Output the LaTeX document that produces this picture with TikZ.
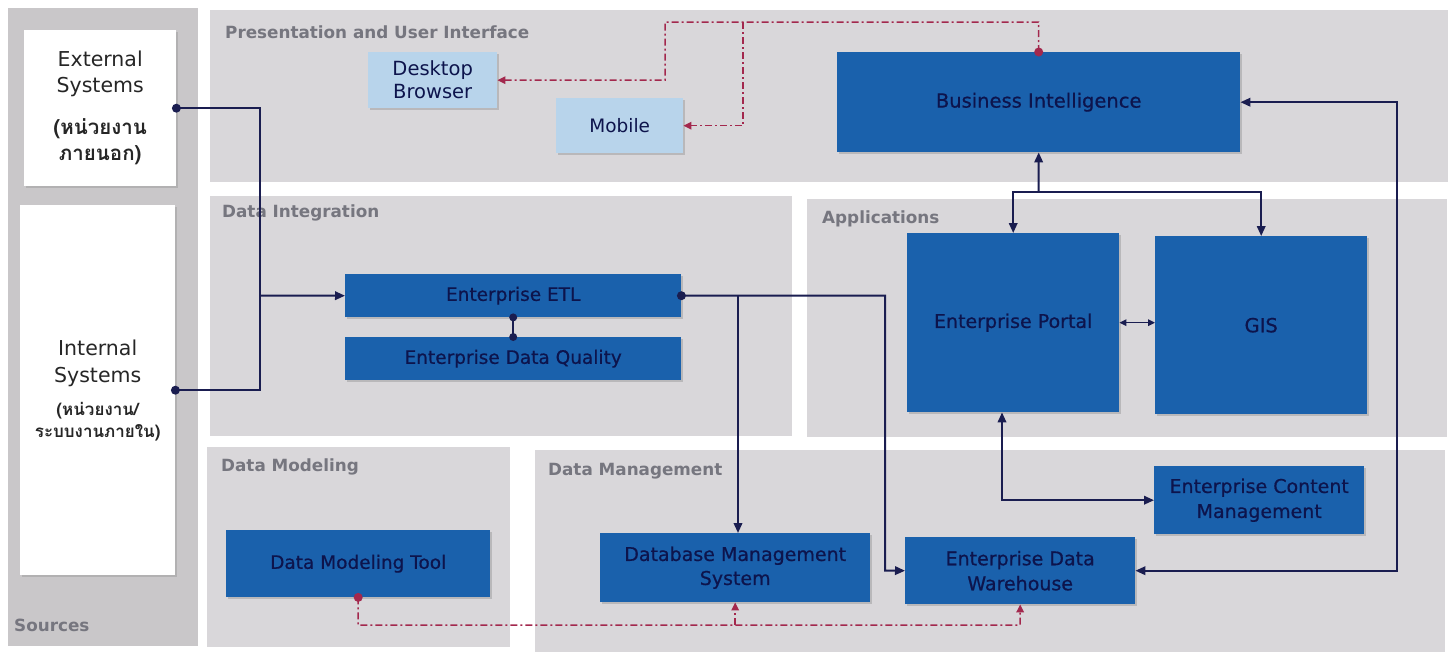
\documentclass[tikz,border=0pt]{standalone}
\usepackage{fontspec}
\setmainfont{DejaVu Sans}
\newfontfamily\boxfont[FakeBold=0.6]{DejaVu Sans}
\newfontfamily\thaifont[Script=Thai]{Loma}
\usetikzlibrary{arrows.meta,shadows,calc}
\definecolor{panel}{HTML}{D9D7DA}
\definecolor{srcpanel}{HTML}{C9C7C9}
\definecolor{boxblue}{HTML}{1A61AC}
\definecolor{lightblue}{HTML}{B8D4EB}
\definecolor{navy}{HTML}{0D144C}
\definecolor{linec}{HTML}{1A1D50}
\definecolor{redc}{HTML}{A3284D}
\definecolor{labelc}{HTML}{76767F}
\begin{document}
\begin{tikzpicture}[x=1pt,y=-1pt,
  panelbox/.style={fill=panel,draw=none,anchor=north west,inner sep=0pt},
  plabel/.style={anchor=west,text=labelc,font=\fontsize{16.8}{19}\selectfont\bfseries,inner sep=0pt},
  srcbox/.style={fill=white,anchor=north west,inner sep=0pt,align=center,text=black!85,
    drop shadow={opacity=0.3,shadow xshift=2pt,shadow yshift=-2pt}},
  bluebox/.style={fill=boxblue,text=navy,font=\boxfont\fontsize{18.5}{22}\selectfont,align=center,
    anchor=north west,inner sep=0pt,drop shadow={opacity=0.35,shadow xshift=2pt,shadow yshift=-2pt}},
  lbox/.style={fill=lightblue,text=navy,font=\fontsize{19.5}{23}\selectfont,align=center,
    anchor=north west,inner sep=0pt,drop shadow={opacity=0.35,shadow xshift=2pt,shadow yshift=-2pt}},
  conn/.style={draw=linec,line width=2pt},
  arr/.style={-{Triangle[length=10pt,width=8.5pt]}},
  barr/.style={{Triangle[length=10pt,width=8.5pt]}-{Triangle[length=10pt,width=8.5pt]}},
  sarr/.style={{Triangle[length=7pt,width=6.5pt]}-{Triangle[length=7pt,width=6.5pt]}},
  redl/.style={draw=redc,line width=1.5pt,dash pattern=on 7pt off 3pt on 2pt off 3pt},
  rarr/.style={-{Triangle[length=8pt,width=7.5pt]}},
]
\useasboundingbox[fill=white] (0,0) rectangle (1455,659);

% ---------- panels ----------
\node[panelbox,fill=srcpanel,minimum width=190pt,minimum height=638pt] (psrc) at (8,8) {};
\node[panelbox,minimum width=1238pt,minimum height=172pt] (ppres) at (210,10) {};
\node[panelbox,minimum width=582pt,minimum height=240pt] (pdi) at (210,196) {};
\node[panelbox,minimum width=640pt,minimum height=238pt] (papp) at (807,199) {};
\node[panelbox,minimum width=303pt,minimum height=200pt] (pdmod) at (207,447) {};
\node[panelbox,minimum width=910pt,minimum height=202pt] (pdman) at (535,450) {};

\node[plabel] (lsrc) at (14,625) {Sources};
\node[plabel] (lpres) at (225,32) {Presentation and User Interface};
\node[plabel] (ldi) at (222,213) {Data Integration};
\node[plabel] (lapp) at (822,219) {Applications};
\node[plabel] (ldmod) at (221,467) {Data Modeling};
\node[plabel] (ldman) at (548,471) {Data Management};

% ---------- sources ----------
\node[srcbox,minimum width=152pt,minimum height=156pt,font=\fontsize{20.5}{26}\selectfont] (ext) at (24,30)
  {External\\Systems\\[16pt]{\thaifont\bfseries (หน่วยงาน}\\{\thaifont\bfseries ภายนอก)}};
\node[srcbox,minimum width=155pt,minimum height=370pt,font=\fontsize{20.5}{27}\selectfont] (int) at (20,205)
  {Internal\\Systems\\[6pt]{\thaifont\bfseries\fontsize{17}{21}\selectfont (หน่วยงาน/}\\[-5pt]{\thaifont\bfseries\fontsize{17}{21}\selectfont ระบบงานภายใน)}};

% ---------- presentation ----------
\node[lbox,minimum width=129pt,minimum height=56pt] (desk) at (368,52) {Desktop\\Browser};
\node[lbox,minimum width=127pt,minimum height=55pt,font=\fontsize{18.5}{22}\selectfont] (mob) at (556,98) {Mobile};
\node[bluebox,minimum width=403pt,minimum height=100pt,font=\boxfont\fontsize{19.5}{22}\selectfont] (bi) at (837,52) {Business Intelligence};

% ---------- data integration ----------
\node[bluebox,minimum width=336pt,minimum height=43pt] (etl) at (345,274) {Enterprise ETL};
\node[bluebox,minimum width=336pt,minimum height=43pt] (edq) at (345,337) {Enterprise Data Quality};

% ---------- applications ----------
\node[bluebox,minimum width=212pt,minimum height=179pt,font=\boxfont\fontsize{19}{22}\selectfont] (portal) at (907,233) {Enterprise Portal};
\node[bluebox,minimum width=212pt,minimum height=178pt,font=\boxfont\fontsize{19.5}{22}\selectfont] (gis) at (1155,236) {GIS};

% ---------- data modeling / management ----------
\node[bluebox,minimum width=264pt,minimum height=67pt] (dmt) at (226,530) {Data Modeling Tool};
\node[bluebox,minimum width=270pt,minimum height=69pt,font=\boxfont\fontsize{19}{24}\selectfont] (dbms) at (600,533) {Database Management\\System};
\node[bluebox,minimum width=230pt,minimum height=67pt,font=\boxfont\fontsize{19}{25}\selectfont] (edw) at (905,537) {Enterprise Data\\Warehouse};
\node[bluebox,minimum width=210pt,minimum height=68pt,font=\boxfont\fontsize{19}{25}\selectfont] (ecm) at (1154,466) {Enterprise Content\\Management};

% ---------- connectors ----------
\coordinate (j1) at (260,295.5);
\draw[conn] (ext.east) -| (j1) |- (int.east);
\draw[conn,arr] (j1) -- (etl.west);
\fill[linec] (ext.east) circle (4.5pt);
\fill[linec] (int.east) circle (4.5pt);

\coordinate (j3) at (885,570.5);
\coordinate (j4) at (738,295.5);
\draw[conn,arr] (etl.east) -| (j3) -- (edw.west);
\draw[conn,arr] (j4) -- (j4 |- dbms.north);
\fill[linec] (etl.east) circle (4.5pt);

\draw[conn,line width=1.5pt] (etl.south) -- (edq.north);
\fill[linec] (etl.south) circle (4pt);
\fill[linec] (edq.north) circle (4pt);

\coordinate (j5) at (1038.5,192);
\draw[conn,arr] (j5) -- (bi.south);
\draw[conn,arr] (j5) -| (portal.north);
\draw[conn,arr] (j5) -| (gis.north);

\draw[conn,sarr,line width=1.5pt] (portal.east) -- (portal.east -| gis.west);

\coordinate (j6) at (1002,500);
\draw[conn,barr] (j6 |- portal.south) |- (ecm.west);

\coordinate (j7) at (1397,300);
\draw[conn,barr] (edw.east) -- (edw.east -| j7) -- (j7 |- bi.east) -- (bi.east);

% red dash-dot
\coordinate (r0) at (1038.5,22);
\coordinate (r1) at (665,22);
\coordinate (r2) at (743,22);
\draw[redl,rarr] (bi.north) -- (r0) -- (r1) |- (desk.east);
\draw[redl,rarr] (r2) |- (mob.east);
\fill[redc] (bi.north) circle (4.5pt);

\coordinate (r3) at (358,625);
\coordinate (r4) at (1020,625);
\draw[redl,rarr] (dmt.south) -- (r3) -- (r4) -- (edw.south);
\draw[redl,rarr] (dbms.south |- r3) -- (dbms.south);
\fill[redc] (dmt.south) circle (4.5pt);
\end{tikzpicture}
\end{document}
